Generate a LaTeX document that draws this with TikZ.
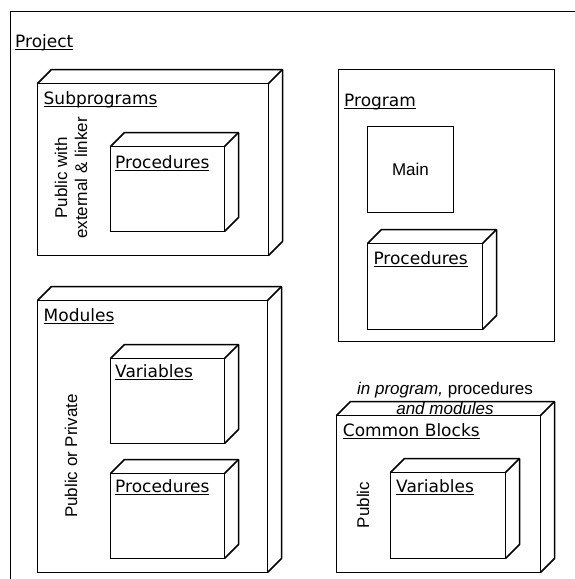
\documentclass[tikz,border=0pt]{standalone}
\usepackage{fontspec}
\setmainfont{Liberation Sans}
\newfontfamily\lblfont{DejaVu Sans}
\usetikzlibrary{calc}
\newcommand{\ulx}[1]{\leavevmode\setbox0=\hbox{#1}\rlap{\vrule width\wd0 height -1.8pt depth 2.9pt}\box0}
\tikzset{
  box/.style={draw, line width=1.5pt, rectangle, inner sep=0pt, outer sep=0pt},
  side/.style={draw, line width=1.5pt, line join=round},
  lbl/.style={inner sep=0pt, anchor=base west, font=\lblfont\fontsize{17}{20}\selectfont},
  txt/.style={inner sep=0pt, font=\fontsize{17}{20}\selectfont, align=center},
}
\newcommand{\facebox}[5]{\node[box, minimum width={(#4)-(#2)}, minimum height={(#5)-(#3)}] (#1) at ({((#2)+(#4))/2},{((#3)+(#5))/2}) {};}
\newcommand{\cubeside}[1]{\draw[side] (#1.north west) -- ++(14,-14) -| ($(#1.south east)+(14,-14)$) -- (#1.south east); \draw[side] (#1.north east) -- ++(14,-14);}
\begin{document}
\begin{tikzpicture}[x=1pt,y=-1pt]
\useasboundingbox (0,0) rectangle (575,579);
% project frame
\coordinate (pbl) at (10.5,579);
\coordinate (ptl) at (10.5,11.5);
\coordinate (ptr) at (575,11.5);
\draw[line width=1.5pt] (pbl) -- (ptl) -- (ptr);
\node[lbl] (projlbl) at (15,47.5) {\ulx{Project}};

% Subprograms
\facebox{sub}{37.5}{83.5}{268.5}{255.5}
\cubeside{sub}
\node[lbl] (sublbl) at (43.5,104) {\ulx{Subprograms}};
\facebox{subproc}{110.5}{146.5}{224.5}{231.5}
\cubeside{subproc}
\node[lbl] (subproclbl) at (115,168) {\ulx{Procedures}};
\node[txt, rotate=90] (subnote) at (71,178) {Public with\\external \& linker};

% Program
\facebox{prog}{338.5}{69.5}{554.5}{341.5}
\node[lbl] (proglbl) at (344,106) {\ulx{Program}};
\facebox{main}{367.5}{126.5}{453.5}{212.5}
\node[txt] (maintxt) at (main.center) {Main};
\facebox{progproc}{367.5}{243.5}{482.5}{329.5}
\cubeside{progproc}
\node[lbl] (progproclbl) at (373.3,264) {\ulx{Procedures}};

% Modules
\facebox{mod}{37.5}{300.5}{267.5}{572.5}
\cubeside{mod}
\node[lbl] (modlbl) at (43.5,321) {\ulx{Modules}};
\facebox{modvar}{110.5}{358.5}{224.5}{443.5}
\cubeside{modvar}
\node[lbl] (modvarlbl) at (115,377.5) {\ulx{Variables}};
\facebox{modproc}{110.5}{473.5}{224.5}{558.5}
\cubeside{modproc}
\node[lbl] (modproclbl) at (115,492.5) {\ulx{Procedures}};
\node[txt, rotate=90] (modnote) at (71,456) {Public or Private};

% Common Blocks
\facebox{cb}{336.5}{415.5}{540.5}{572.5}
\cubeside{cb}
\node[lbl] (cblbl) at (342.7,436) {\ulx{Common Blocks}};
\facebox{cbvar}{390.5}{472.5}{505.5}{558.5}
\cubeside{cbvar}
\node[lbl] (cbvarlbl) at (396,492.5) {\ulx{Variables}};
\node[txt, rotate=90] (cbnote) at (363,505) {Public};
\node[txt] (cbtop) at (445,398) {\textit{in program,} procedures\\\textit{and modules}};
\end{tikzpicture}
\end{document}
